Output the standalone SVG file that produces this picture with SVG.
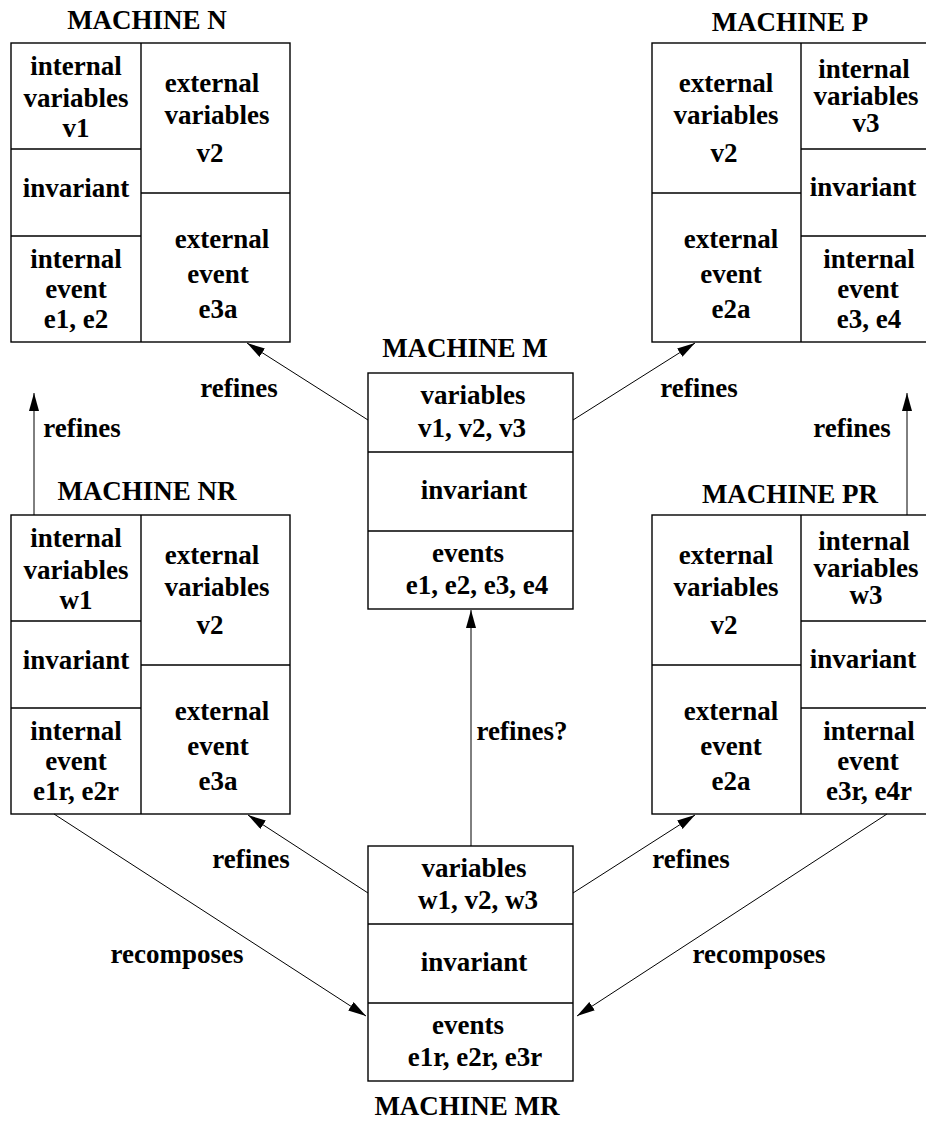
<svg xmlns="http://www.w3.org/2000/svg" width="926" height="1122" viewBox="0 0 926 1122">
<style>
text{font-family:"Liberation Serif","Times New Roman",serif;font-weight:bold;font-size:27px;fill:#000;text-anchor:middle}
.box{fill:#fff;stroke:#000;stroke-width:1.4}
.div{stroke:#000;stroke-width:1.4;fill:none}
.conn line{stroke:#000;stroke-width:1}
</style>
<defs>
<marker id="ah" markerUnits="userSpaceOnUse" markerWidth="20" markerHeight="12" refX="18" refY="5" orient="auto">
<path d="M0,0 L18,5 L0,10 z" fill="#000"/>
</marker>
</defs>
<rect width="926" height="1122" fill="#fff"/>

<g id="machineN">
<text x="147" y="29">MACHINE N</text>
<rect class="box" x="11" y="43" width="279" height="299"/>
<path class="div" d="M141,43 V342 M11,149 H141 M11,236 H141 M141,193 H290"/>
<text x="76" y="75">internal</text>
<text x="76" y="107">variables</text>
<text x="76" y="137">v1</text>
<text x="76" y="197">invariant</text>
<text x="76" y="268">internal</text>
<text x="76" y="298">event</text>
<text x="76" y="328">e1, e2</text>
<text x="212" y="92">external</text>
<text x="217" y="124">variables</text>
<text x="210" y="162">v2</text>
<text x="222" y="248">external</text>
<text x="218" y="283">event</text>
<text x="218" y="318">e3a</text>
</g>

<g id="machineP">
<text x="790" y="31">MACHINE P</text>
<rect class="box" x="652" y="43" width="276" height="299"/>
<path class="div" d="M801,43 V342 M652,193 H801 M801,149 H928 M801,236 H928"/>
<text x="726" y="92">external</text>
<text x="726" y="124">variables</text>
<text x="724" y="162">v2</text>
<text x="731" y="248">external</text>
<text x="731" y="283">event</text>
<text x="731" y="318">e2a</text>
<text x="864" y="78">internal</text>
<text x="866" y="105">variables</text>
<text x="866" y="132">v3</text>
<text x="863" y="196">invariant</text>
<text x="869" y="268">internal</text>
<text x="868" y="298">event</text>
<text x="869" y="328">e3, e4</text>
</g>

<g id="machineM">
<text x="465" y="357">MACHINE M</text>
<rect class="box" x="368" y="373" width="205" height="236"/>
<path class="div" d="M368,452 H573 M368,531 H573"/>
<text x="473" y="404">variables</text>
<text x="472" y="437">v1, v2, v3</text>
<text x="474" y="499">invariant</text>
<text x="468" y="562">events</text>
<text x="477" y="594">e1, e2, e3, e4</text>
</g>

<g id="machineNR">
<text x="147" y="500">MACHINE NR</text>
<rect class="box" x="11" y="515" width="279" height="299"/>
<path class="div" d="M141,515 V814 M11,621 H141 M11,708 H141 M141,665 H290"/>
<text x="76" y="547">internal</text>
<text x="76" y="579">variables</text>
<text x="76" y="609">w1</text>
<text x="76" y="669">invariant</text>
<text x="76" y="740">internal</text>
<text x="76" y="770">event</text>
<text x="76" y="800">e1r, e2r</text>
<text x="212" y="564">external</text>
<text x="217" y="596">variables</text>
<text x="210" y="634">v2</text>
<text x="222" y="720">external</text>
<text x="218" y="755">event</text>
<text x="218" y="790">e3a</text>
</g>

<g id="machinePR">
<text x="790" y="503">MACHINE PR</text>
<rect class="box" x="652" y="515" width="276" height="299"/>
<path class="div" d="M801,515 V814 M652,665 H801 M801,621 H928 M801,708 H928"/>
<text x="726" y="564">external</text>
<text x="726" y="596">variables</text>
<text x="724" y="634">v2</text>
<text x="731" y="720">external</text>
<text x="731" y="755">event</text>
<text x="731" y="790">e2a</text>
<text x="864" y="550">internal</text>
<text x="866" y="577">variables</text>
<text x="866" y="604">w3</text>
<text x="863" y="668">invariant</text>
<text x="869" y="740">internal</text>
<text x="868" y="770">event</text>
<text x="869" y="800">e3r, e4r</text>
</g>

<g id="machineMR">
<rect class="box" x="368" y="846" width="205" height="235"/>
<path class="div" d="M368,924 H573 M368,1003 H573"/>
<text x="474" y="877">variables</text>
<text x="478" y="909">w1, v2, w3</text>
<text x="474" y="971">invariant</text>
<text x="468" y="1034">events</text>
<text x="475" y="1066">e1r, e2r, e3r</text>
<text x="467" y="1115">MACHINE MR</text>
</g>

<g id="connectors" class="conn">
<line x1="368" y1="420" x2="247" y2="343" marker-end="url(#ah)"/>
<line x1="573" y1="420" x2="695" y2="343" marker-end="url(#ah)"/>
<line x1="34" y1="515" x2="34" y2="393" marker-end="url(#ah)"/>
<line x1="907" y1="515" x2="907" y2="393" marker-end="url(#ah)"/>
<line x1="471" y1="846" x2="471" y2="610" marker-end="url(#ah)"/>
<line x1="368" y1="893" x2="248" y2="815" marker-end="url(#ah)"/>
<line x1="573" y1="893" x2="695" y2="815" marker-end="url(#ah)"/>
<line x1="54" y1="814" x2="366" y2="1016" marker-end="url(#ah)"/>
<line x1="887" y1="814" x2="577" y2="1016" marker-end="url(#ah)"/>
<text x="239" y="397">refines</text>
<text x="699" y="397">refines</text>
<text x="82" y="437">refines</text>
<text x="852" y="437">refines</text>
<text x="522" y="740">refines?</text>
<text x="251" y="868">refines</text>
<text x="691" y="868">refines</text>
<text x="177" y="963">recomposes</text>
<text x="759" y="963">recomposes</text>
</g>
</svg>
